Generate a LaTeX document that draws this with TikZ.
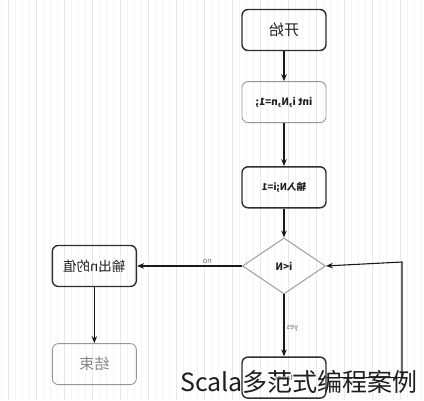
\documentclass[tikz,border=0pt]{standalone}
\usepackage{fontspec}
\setmainfont{Noto Sans CJK SC}
\usepackage{graphicx}
\usetikzlibrary{positioning,shapes.geometric,arrows.meta}
\definecolor{colorline}  {RGB}{25 ,25 ,25 }
\definecolor{colordark}  {RGB}{45 ,45 ,45 }
\definecolor{colorlight} {RGB}{150,150,150}
\definecolor{colorgrid}  {RGB}{232,232,232}
\definecolor{colorminor} {RGB}{245,245,245}
\definecolor{colortext}  {RGB}{30 ,30 ,30 }
\newcommand{\flip}[1]{\reflectbox{#1}}

\begin{document}
\begin{tikzpicture}[
    x=1pt, y=-1pt,
    node distance = 30pt,
    base/.style={rectangle,rounded corners=6pt,draw=colordark,line width=1.4pt,
        minimum width=84pt,minimum height=41pt,inner sep=2pt,align=center,
        text=colortext,font={\bfseries\fontsize{10}{11}\selectfont}},
    softbox/.style={base,draw=colorlight,line width=0.9pt},
    decision/.style={diamond,draw=colorlight,line width=0.9pt,inner sep=0pt,
        minimum width=83pt,minimum height=56pt,text=colortext,
        font={\bfseries\fontsize{10}{11}\selectfont}},
    line/.style={draw=colorline,line width=1.1pt,-{Stealth[length=7pt,width=5.5pt]}},
    tag/.style={text=colorlight!80!black,font={\fontsize{7.5}{8}\selectfont},inner sep=2pt},
]

    \useasboundingbox (0,0) rectangle (424,400);

    % Grid
    \draw[colorminor,line width=0.4pt,shift={(1,2)}] (-1,-2) grid[step=7] (423,398);
    \draw[colorgrid,line width=0.6pt,shift={(8,23)}] (-8,-23) grid[step=28] (416,377);

    % Nodes
    \node[base,font={\fontsize{15}{16}\selectfont}] (start) at (284,30) {\flip{开始}};
    \node[softbox,below=30pt of start]              (init)     {\flip{int i,N,n=1;}};
    \node[base,below=43pt of init,font={\bfseries\fontsize{9.5}{10}\selectfont}] (input) {\flip{输入N;i=1}};
    \node[decision,below=29pt of input]             (check)    {\flip{i<N}};
    \node[base,below=62pt of check]                 (body)     {\textcolor{colorlight}{\fontsize{7}{8}\selectfont\flip{label}}};
    \node[base,left=105pt of check,font={\fontsize{13.5}{14}\selectfont}] (output) {\flip{输出n的值}};
    \node[softbox,below=56pt of output,text=colorlight!90!black,font={\fontsize{15}{16}\selectfont}] (finish) {\flip{结束}};
    \coordinate (loopturn) at (402,262);

    % Arrows
    \draw[line] (start) -- (init);
    \draw[line] (init) -- (input);
    \draw[line] (input) -- (check);
    \draw[line] (check) -- node[tag,above,pos=0.33] {\flip{no}} (output);
    \draw[line] (check) -- node[tag,right,pos=0.55] {\flip{yes}} (body);
    \draw[line] (output) -- (finish);
    \draw[line] (body.east) -| (loopturn) -- (check.east);

    % Caption
    \node[anchor=base west,inner sep=0pt,text=colortext,font={\fontsize{25}{26}\selectfont}] (caption) at (180,391) {Scala多范式编程案例};

\end{tikzpicture}
\end{document}
